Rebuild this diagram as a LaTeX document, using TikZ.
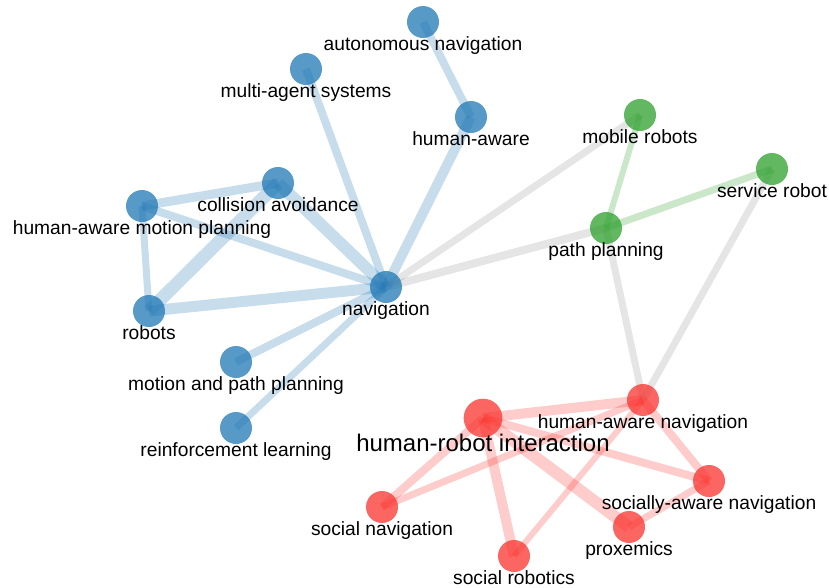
\documentclass[tikz,border=0pt]{standalone}
\usepackage{fontspec}
\setmainfont{Liberation Sans}
\usetikzlibrary{calc}
\pgfdeclarelayer{background}
\pgfsetlayers{background,main}
\definecolor{kwblue}{RGB}{31,119,180}
\definecolor{kwgreen}{RGB}{44,160,44}
\definecolor{kwred}{RGB}{250,50,45}
\definecolor{kwgray}{RGB}{150,150,150}
\tikzset{
	kw/.style={circle, fill=#1, fill opacity=0.75, draw=none, minimum size=24pt, inner sep=0pt},
	lbl/.style={anchor=base, inner sep=0pt, font=\fontsize{14.4}{17}\selectfont},
	link/.style={draw=#1, draw opacity=0.25},
}
\begin{document}
\begin{tikzpicture}[x=0.75pt, y=-0.75pt]
		\useasboundingbox (0,0) rectangle (829,587);
		% blue cluster
		\node[kw=kwblue] (auto) at (423,22) {};
		\node[kw=kwblue] (multi) at (306,69) {};
		\node[kw=kwblue] (human) at (471,117) {};
		\node[kw=kwblue] (coll) at (278,183) {};
		\node[kw=kwblue] (hamp) at (142,206) {};
		\node[kw=kwblue] (nav) at (386,287) {};
		\node[kw=kwblue] (robots) at (149,311) {};
		\node[kw=kwblue] (motion) at (236,362) {};
		\node[kw=kwblue] (reinf) at (236,428) {};
		% green cluster
		\node[kw=kwgreen] (mobile) at (640,115) {};
		\node[kw=kwgreen] (service) at (772,169) {};
		\node[kw=kwgreen] (pathp) at (606,228) {};
		% red cluster
		\node[kw=kwred, minimum size=29pt] (hri) at (483,418) {};
		\node[kw=kwred] (han) at (643,400) {};
		\node[kw=kwred] (saw) at (709,481) {};
		\node[kw=kwred] (socnav) at (382,507) {};
		\node[kw=kwred] (socrob) at (514,556) {};
		\node[kw=kwred] (prox) at (629,527) {};
%
		\node[lbl] (autoL) at ($(auto)+(0,28)$) {autonomous navigation};
		\node[lbl] (multiL) at ($(multi)+(0,28)$) {multi-agent systems};
		\node[lbl] (humanL) at ($(human)+(0,28)$) {human-aware};
		\node[lbl] (collL) at ($(coll)+(0,28)$) {collision avoidance};
		\node[lbl] (hampL) at ($(hamp)+(0,28)$) {human-aware motion planning};
		\node[lbl] (navL) at ($(nav)+(0,28)$) {navigation};
		\node[lbl] (robotsL) at ($(robots)+(0,28)$) {robots};
		\node[lbl] (motionL) at ($(motion)+(0,28)$) {motion and path planning};
		\node[lbl] (reinfL) at ($(reinf)+(0,28)$) {reinforcement learning};
		\node[lbl] (mobileL) at ($(mobile)+(0,28)$) {mobile robots};
		\node[lbl] (serviceL) at ($(service)+(0,28)$) {service robot};
		\node[lbl] (pathpL) at ($(pathp)+(0,28)$) {path planning};
		\node[lbl, font=\fontsize{18}{21}\selectfont] (hriL) at ($(hri)+(0,33)$) {human-robot interaction};
		\node[lbl] (hanL) at ($(han)+(0,28)$) {human-aware navigation};
		\node[lbl] (sawL) at ($(saw)+(0,28)$) {socially-aware navigation};
		\node[lbl] (socnavL) at ($(socnav)+(0,28)$) {social navigation};
		\node[lbl] (socrobL) at ($(socrob)+(0,28)$) {social robotics};
		\node[lbl] (proxL) at ($(prox)+(0,28)$) {proxemics};
%
		\begin{pgfonlayer}{background}
		\path[link=kwblue]
			(auto.center) edge[line width=6pt] (human.center)
			(human.center) edge[line width=7.5pt] (nav.center)
			(multi.center) edge[line width=6pt] (nav.center)
			(coll.center) edge[line width=9pt] (nav.center)
			(coll.center) edge[line width=6.75pt] (hamp.center)
			(coll.center) edge[line width=9.75pt] (robots.center)
			(hamp.center) edge[line width=6pt] (nav.center)
			(hamp.center) edge[line width=5.25pt] (robots.center)
			(robots.center) edge[line width=8.25pt] (nav.center)
			(motion.center) edge[line width=6pt] (nav.center)
			(reinf.center) edge[line width=5.25pt] (nav.center);
		\path[link=kwgray]
			(nav.center) edge[line width=5.25pt] (mobile.center)
			(nav.center) edge[line width=6pt] (pathp.center)
			(pathp.center) edge[line width=5.25pt] (han.center)
			(service.center) edge[line width=5.25pt] (han.center);
		\path[link=kwgreen]
			(mobile.center) edge[line width=4.5pt] (pathp.center)
			(service.center) edge[line width=5.25pt] (pathp.center);
		\path[link=kwred]
			(hri.center) edge[line width=7.5pt] (han.center)
			(hri.center) edge[line width=6pt] (saw.center)
			(hri.center) edge[line width=6pt] (socnav.center)
			(hri.center) edge[line width=7.5pt] (socrob.center)
			(hri.center) edge[line width=9pt] (prox.center)
			(han.center) edge[line width=6pt] (saw.center)
			(han.center) edge[line width=5.25pt] (socnav.center)
			(han.center) edge[line width=4.5pt] (socrob.center)
			(saw.center) edge[line width=5.25pt] (prox.center);
		\end{pgfonlayer}
	\end{tikzpicture}
\end{document}
